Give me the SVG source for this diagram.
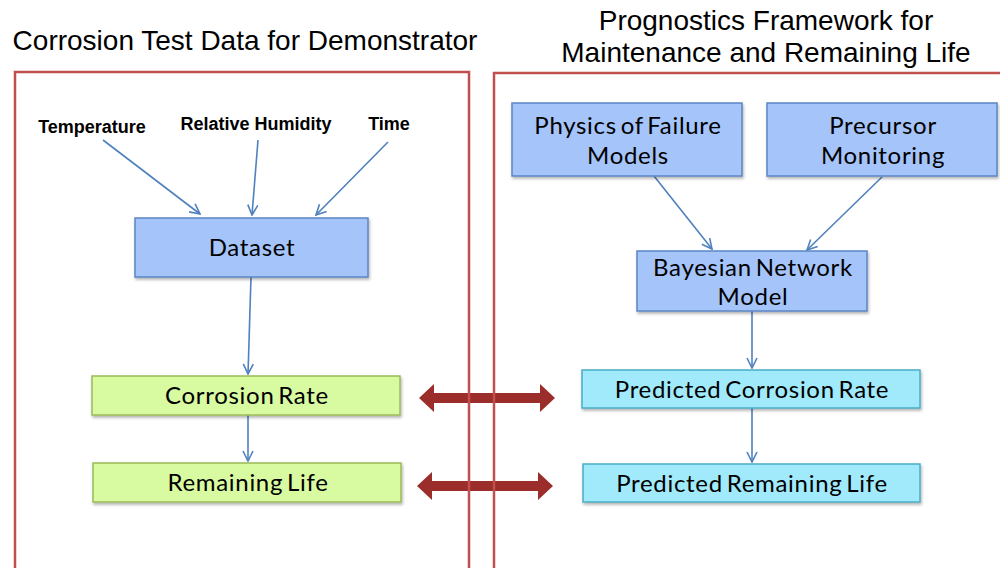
<svg xmlns="http://www.w3.org/2000/svg" width="1000" height="568" viewBox="0 0 1000 568">
<style>
.title{font-family:"Liberation Sans",Arial,sans-serif;font-size:28px;fill:#000;text-anchor:middle}
.in{font-family:"Liberation Sans",Arial,sans-serif;font-size:18px;font-weight:bold;fill:#000;text-anchor:middle}
.lbl{font-family:Lato,"Open Sans",sans-serif;font-size:24px;letter-spacing:0.7px;fill:#000;text-anchor:middle;word-spacing:-3px}
.blue{fill:#A4C4FA;stroke:#5B86C4;stroke-width:1.5}
.green{fill:#D8FAA0;stroke:#9BBB59;stroke-width:1.5}
.cyan{fill:#A0EAFC;stroke:#4BACC6;stroke-width:1.5}
.frame{fill:none;stroke:#C0504D;stroke-width:2.5}
.con{stroke:#4F81BD;stroke-width:1.6;fill:none;marker-end:url(#ah)}
.dbl{fill:#9B2D2A}
</style>
<defs>
<marker id="ah" viewBox="0 0 12 12" refX="11" refY="6" markerWidth="12" markerHeight="12" markerUnits="userSpaceOnUse" orient="auto">
<path d="M1,1 L11,6 L1,11" fill="none" stroke="#4F81BD" stroke-width="1.6"/>
</marker>
<filter id="sh" x="-5%" y="-10%" width="110%" height="130%">
<feDropShadow dx="1" dy="2" stdDeviation="1.5" flood-color="#000" flood-opacity="0.3"/>
</filter>
</defs>
<rect width="1000" height="568" fill="#fff"/>
<text class="title" x="245" y="50">Corrosion Test Data for Demonstrator</text>
<text class="title" x="766" y="30">Prognostics Framework for</text>
<text class="title" x="766" y="62">Maintenance and Remaining Life</text>

<g id="arrows-double">
<path class="dbl" d="M419,398 L434,384 L434,393 L540,393 L540,384 L555,398 L540,412 L540,403 L434,403 L434,412 Z"/>
<path class="dbl" d="M417,486 L432,472 L432,481 L538,481 L538,472 L553,486 L538,500 L538,491 L432,491 L432,500 Z"/>
</g>

<rect class="frame" x="15" y="72" width="454" height="520"/>
<rect class="frame" x="494" y="73" width="540" height="520"/>

<g id="connectors">
<line class="con" x1="103" y1="140" x2="200" y2="214"/>
<line class="con" x1="258" y1="140" x2="252" y2="215"/>
<line class="con" x1="388" y1="142" x2="316" y2="215"/>
<line class="con" x1="251" y1="277" x2="248" y2="374"/>
<line class="con" x1="248" y1="415" x2="248" y2="461"/>
<line class="con" x1="654" y1="176" x2="712" y2="249"/>
<line class="con" x1="882" y1="177" x2="807" y2="250"/>
<line class="con" x1="752" y1="311" x2="752" y2="368"/>
<line class="con" x1="752" y1="408" x2="752" y2="462"/>
</g>

<g id="temperature"><text class="in" x="92" y="133">Temperature</text></g>
<g id="humidity"><text class="in" x="256" y="130">Relative Humidity</text></g>
<g id="time"><text class="in" x="389" y="130">Time</text></g>

<g id="dataset"><rect class="blue" filter="url(#sh)" x="135" y="218" width="233" height="59"/><text class="lbl" x="252" y="256">Dataset</text></g>
<g id="corrosion-rate"><rect class="green" filter="url(#sh)" x="92" y="376" width="308" height="39"/><text class="lbl" x="247" y="404">Corrosion Rate</text></g>
<g id="remaining-life"><rect class="green" filter="url(#sh)" x="93" y="463" width="308" height="39"/><text class="lbl" x="248" y="491">Remaining Life</text></g>

<g id="physics"><rect class="blue" filter="url(#sh)" x="512" y="103" width="230" height="73"/><text class="lbl" x="628" y="134">Physics of Failure</text><text class="lbl" x="628" y="164">Models</text></g>
<g id="precursor"><rect class="blue" filter="url(#sh)" x="767" y="103" width="230" height="73"/><text class="lbl" x="883" y="134">Precursor</text><text class="lbl" x="883" y="164">Monitoring</text></g>
<g id="bayesian"><rect class="blue" filter="url(#sh)" x="637" y="251" width="230" height="60"/><text class="lbl" x="753" y="276">Bayesian Network</text><text class="lbl" x="753" y="305">Model</text></g>
<g id="pred-corrosion"><rect class="cyan" filter="url(#sh)" x="582" y="370" width="338" height="38"/><text class="lbl" x="752" y="398">Predicted Corrosion Rate</text></g>
<g id="pred-life"><rect class="cyan" filter="url(#sh)" x="583" y="464" width="337" height="38"/><text class="lbl" x="752" y="492">Predicted Remaining Life</text></g>
</svg>
